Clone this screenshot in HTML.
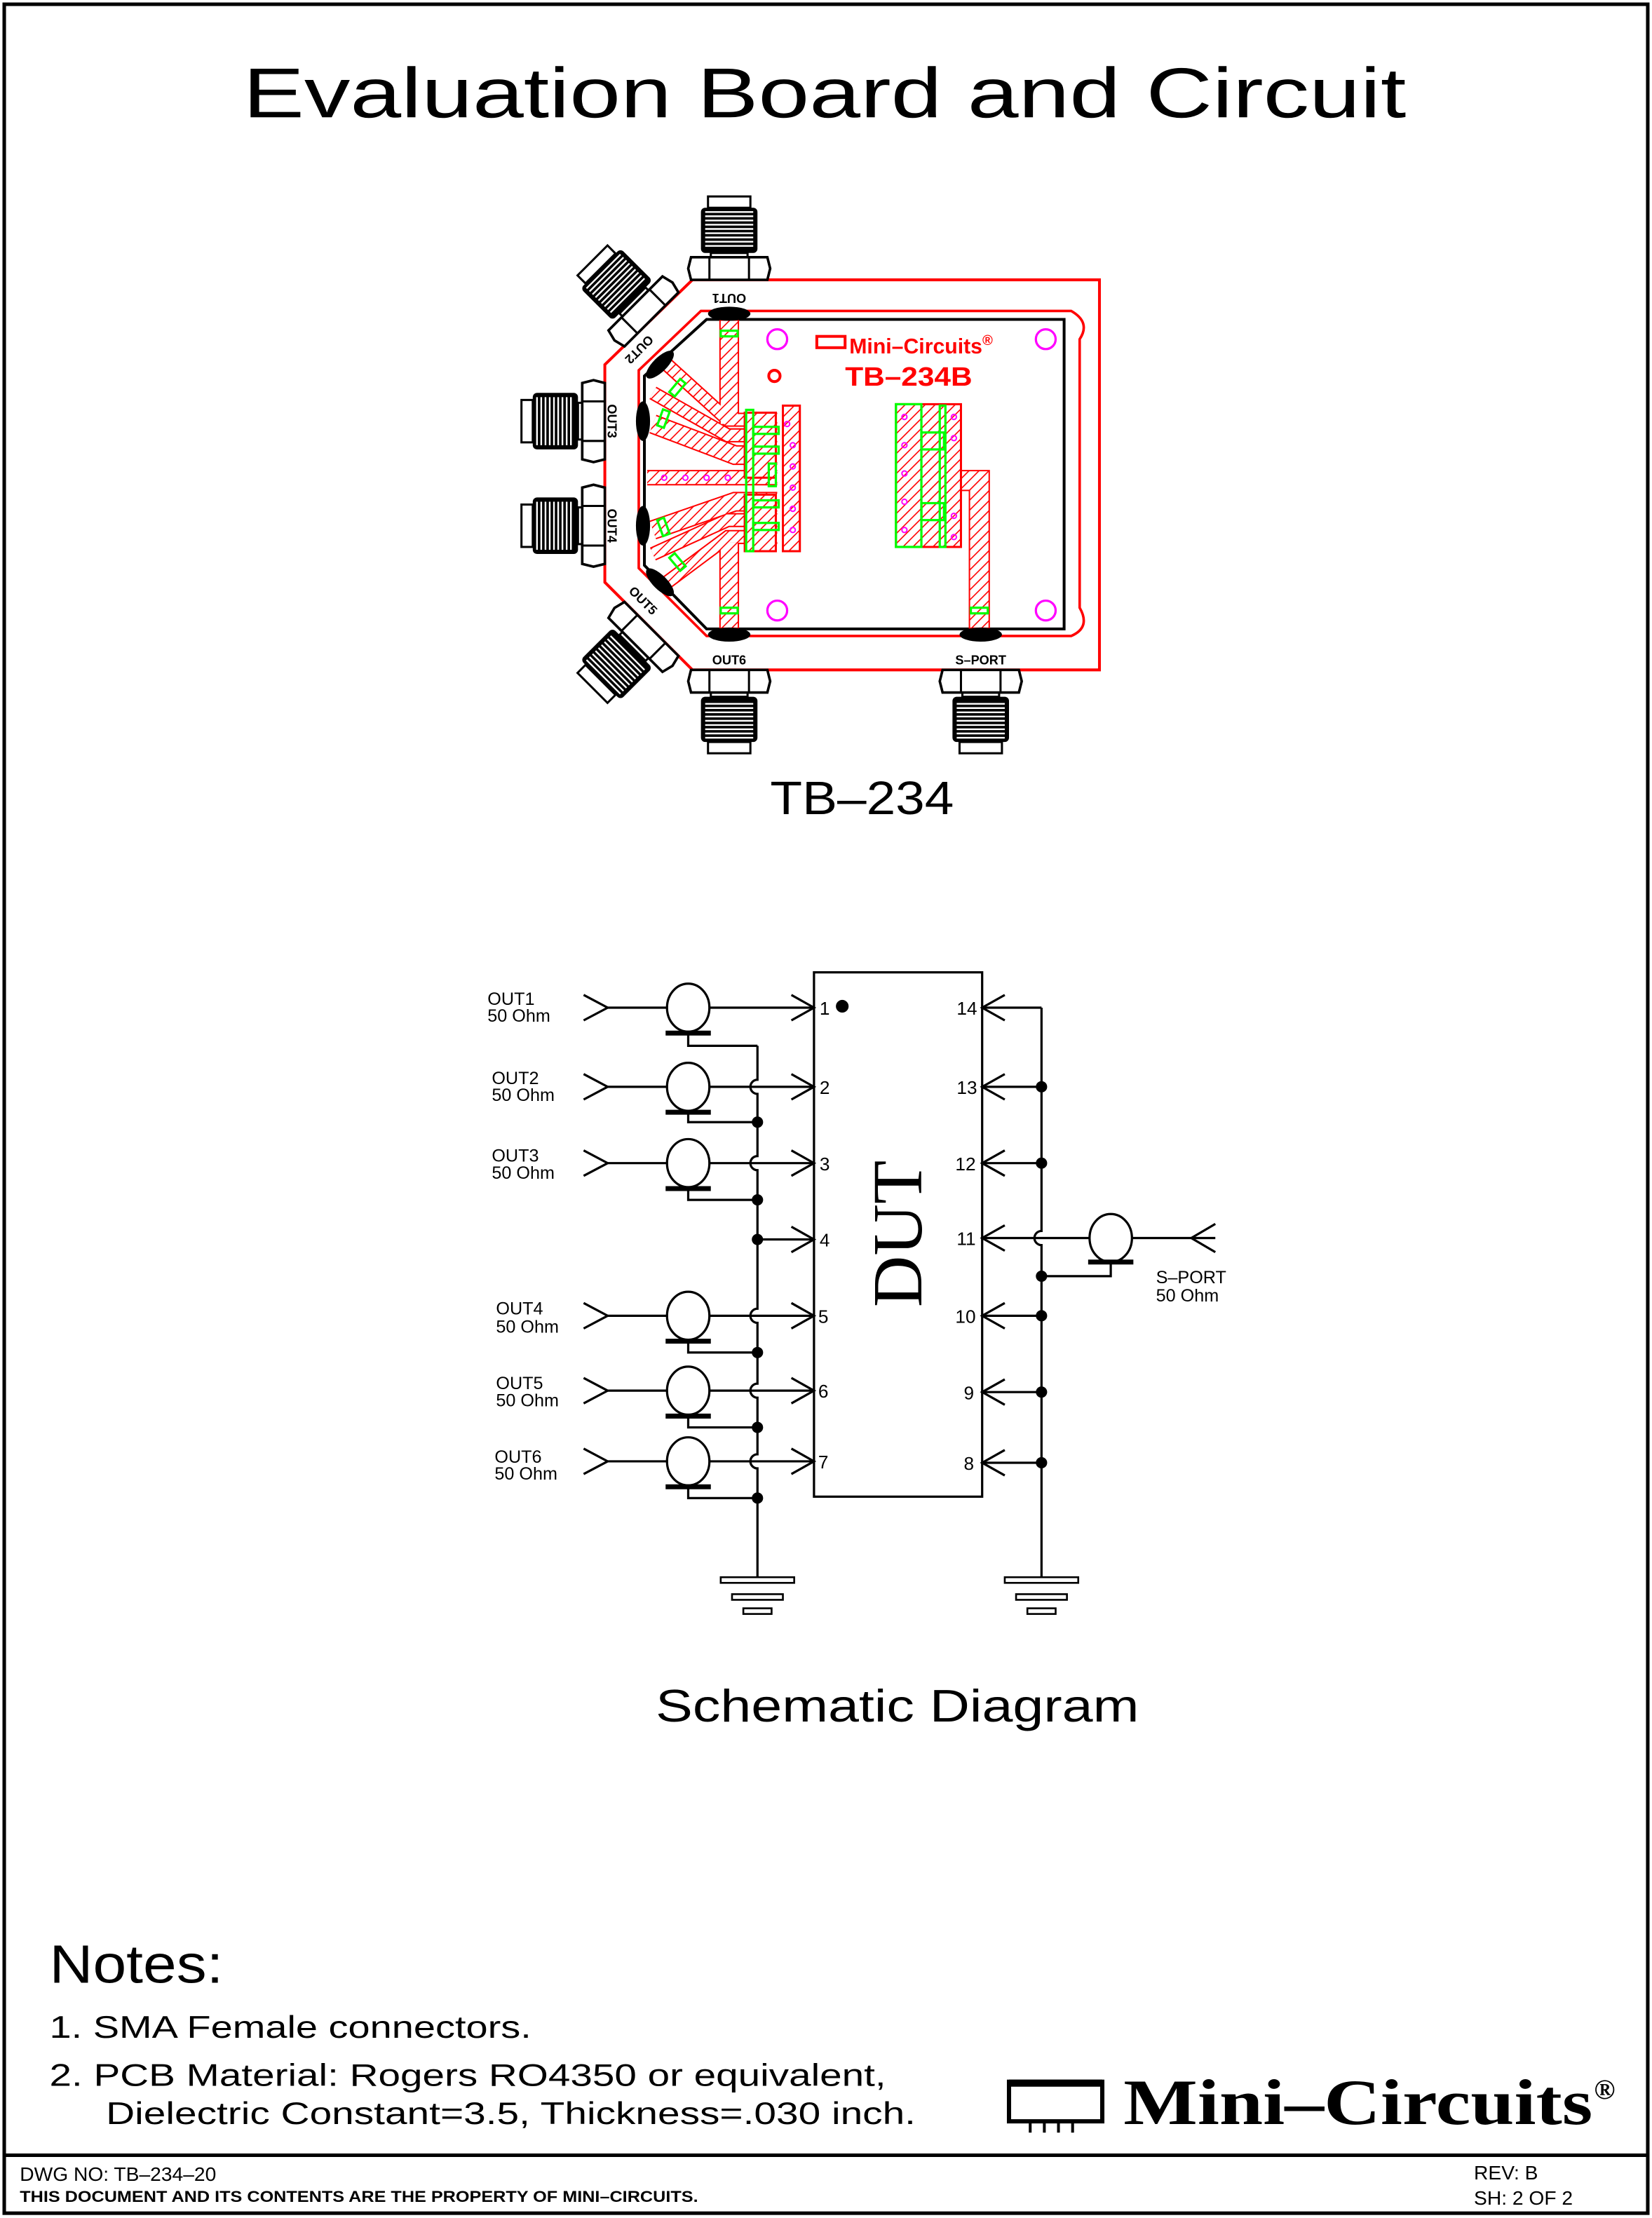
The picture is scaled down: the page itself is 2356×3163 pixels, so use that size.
<!DOCTYPE html>
<html><head><meta charset="utf-8"><style>
html,body{margin:0;padding:0;background:#fff;}
svg{display:block;}
text{font-family:"Liberation Sans",sans-serif;}
text.serif{font-family:"Liberation Serif",serif;}
</style></head><body>
<svg width="2356" height="3163" viewBox="0 0 1169 1569.4" xmlns="http://www.w3.org/2000/svg">
<defs>
<pattern id="h" patternUnits="userSpaceOnUse" width="5" height="5" patternTransform="rotate(45)">
<rect width="5" height="5" fill="#fff"/><line x1="0" y1="0" x2="0" y2="5" stroke="#f00" stroke-width="1.6"/>
</pattern>
<g id="conn">
<rect x="-15" y="-59" width="30" height="8" fill="#fff" stroke="#000" stroke-width="1.5"/>
<rect x="-20" y="-51" width="40" height="32" rx="3" fill="#000"/>
<g stroke="#fff" stroke-width="1.2">
<line x1="-17" y1="-48" x2="17" y2="-48"/><line x1="-17" y1="-45" x2="17" y2="-45"/><line x1="-17" y1="-42" x2="17" y2="-42"/><line x1="-17" y1="-39" x2="17" y2="-39"/><line x1="-17" y1="-36" x2="17" y2="-36"/><line x1="-17" y1="-33" x2="17" y2="-33"/><line x1="-17" y1="-30" x2="17" y2="-30"/><line x1="-17" y1="-27" x2="17" y2="-27"/><line x1="-17" y1="-24" x2="17" y2="-24"/>
</g>
<rect x="-13" y="-19" width="26" height="3" fill="#fff" stroke="#000" stroke-width="1.5"/>
<path d="M-27,-16 L27,-16 L29,-8 L27,0 L-27,0 L-29,-8 Z" fill="#fff" stroke="#000" stroke-width="1.8"/>
<line x1="-14" y1="-16" x2="-14" y2="0" stroke="#000" stroke-width="1.5"/>
<line x1="14" y1="-16" x2="14" y2="0" stroke="#000" stroke-width="1.5"/>
</g>
</defs>

<rect x="3" y="3" width="1163" height="1563" fill="none" stroke="#000" stroke-width="2.5"/>
<line x1="3" y1="1525" x2="1166" y2="1525" stroke="#000" stroke-width="2.5"/>

<text x="172" y="83" font-size="50" textLength="823" lengthAdjust="spacingAndGlyphs">Evaluation  Board  and  Circuit</text>

<!-- PCB -->
<path d="M490,198 L778,198 L778,474 L490,474 L428,412 L428,258 Z" fill="none" stroke="#f00" stroke-width="2"/>
<path d="M520,220 L758,220 Q772,228 764,240 L764,430 Q772,444 758,450 L500,450 L452,402 L452,262 L496,220 Z" fill="none" stroke="#f00" stroke-width="1.8"/>
<path d="M500,226 L753,226 L753,445 L500,445 L456,400 L456,266 Z" fill="none" stroke="#000" stroke-width="2"/>

<g fill="none" stroke-linejoin="miter">
<g stroke="#f00">
<polyline points="472,258 515,297 550,297" stroke-width="10"/>
<polyline points="462,278 515,308 550,308" stroke-width="10"/>
<polyline points="462,300 520,322 550,322" stroke-width="14"/>
<polyline points="458,338 550,338" stroke-width="11"/>
<polyline points="462,375 520,355 550,355" stroke-width="14"/>
<polyline points="462,392 515,368 550,368" stroke-width="10"/>
<polyline points="472,412 515,380 550,380" stroke-width="10"/>
<polyline points="516,226 516,300" stroke-width="14"/>
<polyline points="516,384 516,445" stroke-width="14"/>
<polyline points="655,340 693,340 693,445" stroke-width="15"/>
</g>
<g stroke="url(#h)">
<polyline points="472,258 515,297 550,297" stroke-width="8"/>
<polyline points="462,278 515,308 550,308" stroke-width="8"/>
<polyline points="462,300 520,322 550,322" stroke-width="12"/>
<polyline points="458,338 550,338" stroke-width="9"/>
<polyline points="462,375 520,355 550,355" stroke-width="12"/>
<polyline points="462,392 515,368 550,368" stroke-width="8"/>
<polyline points="472,412 515,380 550,380" stroke-width="8"/>
<polyline points="516,227 516,300" stroke-width="12"/>
<polyline points="516,384 516,444" stroke-width="12"/>
<polyline points="655,340 693,340 693,444" stroke-width="13"/>
</g>
</g>
<rect x="527" y="292" width="22" height="46" fill="url(#h)" stroke="#f00" stroke-width="1.5"/>
<rect x="527" y="350" width="22" height="40" fill="url(#h)" stroke="#f00" stroke-width="1.5"/>
<rect x="554" y="287" width="12" height="103" fill="url(#h)" stroke="#f00" stroke-width="1.5"/>
<rect x="634" y="286" width="46" height="101" fill="url(#h)" stroke="#f00" stroke-width="1.5"/>
<g fill="none" stroke="#0f0" stroke-width="1.6">
<rect x="634" y="286" width="18" height="101"/><rect x="652" y="306" width="16" height="12"/><rect x="652" y="356" width="16" height="12"/>
<rect x="665" y="287" width="4" height="100"/>
<rect x="528" y="290" width="5" height="100"/><rect x="533" y="302" width="18" height="5"/><rect x="533" y="316" width="18" height="5"/>
<rect x="533" y="354" width="18" height="5"/><rect x="533" y="370" width="18" height="5"/>
<rect x="544" y="328" width="5" height="16"/>
<rect x="510" y="234" width="12" height="4"/><rect x="510" y="430" width="12" height="4"/><rect x="687" y="430" width="12" height="4"/>
<rect x="477" y="268" width="5" height="12" transform="rotate(40 479 274)"/>
<rect x="467" y="290" width="5" height="12" transform="rotate(20 469 296)"/>
<rect x="467" y="367" width="5" height="12" transform="rotate(-20 469 373)"/>
<rect x="477" y="392" width="5" height="12" transform="rotate(-40 479 398)"/>
</g>
<g fill="none" stroke="#f0f" stroke-width="1">
<circle cx="557" cy="300" r="1.8"/><circle cx="561" cy="315" r="1.8"/><circle cx="561" cy="330" r="1.8"/><circle cx="561" cy="345" r="1.8"/><circle cx="561" cy="360" r="1.8"/><circle cx="561" cy="375" r="1.8"/>
<circle cx="470" cy="338" r="1.8"/><circle cx="485" cy="338" r="1.8"/><circle cx="500" cy="338" r="1.8"/><circle cx="515" cy="338" r="1.8"/>
<circle cx="640" cy="295" r="1.8"/><circle cx="640" cy="315" r="1.8"/><circle cx="640" cy="335" r="1.8"/><circle cx="640" cy="355" r="1.8"/><circle cx="640" cy="375" r="1.8"/>
<circle cx="675" cy="295" r="1.8"/><circle cx="675" cy="310" r="1.8"/><circle cx="675" cy="365" r="1.8"/><circle cx="675" cy="380" r="1.8"/>
</g>
<g fill="none" stroke="#f0f" stroke-width="1.6">
<circle cx="550" cy="240" r="7"/><circle cx="740" cy="240" r="7"/><circle cx="550" cy="432" r="7"/><circle cx="740" cy="432" r="7"/>
</g>
<circle cx="548" cy="266" r="4" fill="none" stroke="#f00" stroke-width="2"/>
<rect x="578" y="238" width="20" height="8" fill="none" stroke="#f00" stroke-width="2"/>
<text x="601" y="250" font-size="15" font-weight="bold" fill="#f00">Mini–Circuits<tspan font-size="10" dy="-6">®</tspan></text>
<text x="598" y="273" font-size="19" font-weight="bold" fill="#f00" textLength="90" lengthAdjust="spacingAndGlyphs">TB–234B</text>

<g fill="#000">
<ellipse cx="516" cy="222" rx="15" ry="5"/><ellipse cx="516" cy="449" rx="15" ry="5"/><ellipse cx="694" cy="449" rx="15" ry="5"/>
<ellipse cx="455" cy="298" rx="5" ry="14"/><ellipse cx="455" cy="372" rx="5" ry="14"/>
<ellipse cx="467" cy="258" rx="13" ry="5" transform="rotate(-45 467 258)"/>
<ellipse cx="467" cy="412" rx="13" ry="5" transform="rotate(45 467 412)"/>
</g>

<use href="#conn" transform="translate(516,198)"/>
<use href="#conn" transform="translate(516,474) rotate(180)"/>
<use href="#conn" transform="translate(694,474) rotate(180)"/>
<use href="#conn" transform="translate(428,298) rotate(-90)"/>
<use href="#conn" transform="translate(428,372) rotate(-90)"/>
<use href="#conn" transform="translate(461,226) rotate(-45)"/>
<use href="#conn" transform="translate(461,445) rotate(-135)"/>

<g font-size="9" font-weight="bold">
<text x="516" y="202" text-anchor="middle" transform="rotate(180 516 205)">OUT1</text>
<text x="453" y="252" text-anchor="middle" transform="rotate(135 453 248)">OUT2</text>
<text x="433" y="301" text-anchor="middle" transform="rotate(90 433 298)">OUT3</text>
<text x="433" y="375" text-anchor="middle" transform="rotate(90 433 372)">OUT4</text>
<text x="455" y="428" text-anchor="middle" transform="rotate(45 455 425)">OUT5</text>
<text x="516" y="470" text-anchor="middle">OUT6</text>
<text x="694" y="470" text-anchor="middle">S–PORT</text>
</g>

<text x="545" y="576" font-size="33" textLength="130" lengthAdjust="spacingAndGlyphs">TB–234</text>

<!-- Schematic -->
<g stroke="#000" stroke-width="1.6" fill="none">
<rect x="576" y="688" width="119" height="371"/>
<polyline points="413,704 430,713 413,722"/><line x1="430" y1="713" x2="576" y2="713"/><polyline points="560,704 576,713 560,722"/>
<polyline points="413,760 430,769 413,778"/><line x1="430" y1="769" x2="576" y2="769"/><polyline points="560,760 576,769 560,778"/>
<polyline points="413,814 430,823 413,832"/><line x1="430" y1="823" x2="576" y2="823"/><polyline points="560,814 576,823 560,832"/>
<line x1="536" y1="877" x2="576" y2="877"/><polyline points="560,868 576,877 560,886"/>
<polyline points="413,922 430,931 413,940"/><line x1="430" y1="931" x2="576" y2="931"/><polyline points="560,922 576,931 560,940"/>
<polyline points="413,975 430,984 413,993"/><line x1="430" y1="984" x2="576" y2="984"/><polyline points="560,975 576,984 560,993"/>
<polyline points="413,1025 430,1034 413,1043"/><line x1="430" y1="1034" x2="576" y2="1034"/><polyline points="560,1025 576,1034 560,1043"/>
<path d="M536,740 L536,764 A5,5 0 0 0 536,774 L536,818 A5,5 0 0 0 536,828 L536,926 A5,5 0 0 0 536,936 L536,979 A5,5 0 0 0 536,989 L536,1029 A5,5 0 0 0 536,1039 L536,1117"/>
<polyline points="487,731 487,740 536,740"/>
<polyline points="487,787 487,794 536,794"/>
<polyline points="487,841 487,849 536,849"/>
<polyline points="487,949 487,957 536,957"/>
<polyline points="487,1002 487,1010 536,1010"/>
<polyline points="487,1052 487,1060 536,1060"/>
<path d="M737,713 L737,871 A5,5 0 0 0 737,881 L737,1117"/>
<line x1="695" y1="713" x2="737" y2="713"/><polyline points="711,704 695,713 711,722"/>
<line x1="695" y1="769" x2="737" y2="769"/><polyline points="711,760 695,769 711,778"/>
<line x1="695" y1="823" x2="737" y2="823"/><polyline points="711,814 695,823 711,832"/>
<line x1="695" y1="876" x2="860" y2="876"/><polyline points="711,867 695,876 711,885"/><polyline points="860,866 843,876 860,886"/>
<line x1="695" y1="931" x2="737" y2="931"/><polyline points="711,922 695,931 711,940"/>
<line x1="695" y1="985" x2="737" y2="985"/><polyline points="711,976 695,985 711,994"/>
<line x1="695" y1="1035" x2="737" y2="1035"/><polyline points="711,1026 695,1035 711,1044"/>
<polyline points="786,893 786,903 737,903"/>
<g fill="#fff">
<ellipse cx="487" cy="713" rx="15" ry="17"/><ellipse cx="487" cy="769" rx="15" ry="17"/><ellipse cx="487" cy="823" rx="15" ry="17"/>
<ellipse cx="487" cy="931" rx="15" ry="17"/><ellipse cx="487" cy="984" rx="15" ry="17"/><ellipse cx="487" cy="1034" rx="15" ry="17"/>
<ellipse cx="786" cy="876" rx="15" ry="17"/>
</g>
</g>
<g stroke="#000" stroke-width="3.5">
<line x1="471" y1="731" x2="503" y2="731"/><line x1="471" y1="787" x2="503" y2="787"/><line x1="471" y1="841" x2="503" y2="841"/>
<line x1="471" y1="949" x2="503" y2="949"/><line x1="471" y1="1002" x2="503" y2="1002"/><line x1="471" y1="1052" x2="503" y2="1052"/>
<line x1="770" y1="893" x2="802" y2="893"/>
</g>
<g fill="#000">
<circle cx="596" cy="712" r="4.5"/>
<circle cx="536" cy="794" r="4"/><circle cx="536" cy="849" r="4"/><circle cx="536" cy="877" r="4"/><circle cx="536" cy="957" r="4"/><circle cx="536" cy="1010" r="4"/><circle cx="536" cy="1060" r="4"/>
<circle cx="737" cy="769" r="4"/><circle cx="737" cy="823" r="4"/><circle cx="737" cy="903" r="4"/><circle cx="737" cy="931" r="4"/><circle cx="737" cy="985" r="4"/><circle cx="737" cy="1035" r="4"/>
</g>
<g fill="#fff" stroke="#000" stroke-width="1.3">
<rect x="510" y="1116" width="52" height="4"/><rect x="518" y="1128" width="36" height="4"/><rect x="526" y="1138" width="20" height="4"/>
<rect x="711" y="1116" width="52" height="4"/><rect x="719" y="1128" width="36" height="4"/><rect x="727" y="1138" width="20" height="4"/>
</g>
<g font-size="13">
<text x="580" y="718">1</text><text x="580" y="774">2</text><text x="580" y="828">3</text><text x="580" y="882">4</text><text x="579" y="936">5</text><text x="579" y="989">6</text><text x="579" y="1039">7</text>
<text x="677" y="718">14</text><text x="677" y="774">13</text><text x="676" y="828">12</text><text x="677" y="881">11</text><text x="676" y="936">10</text><text x="682" y="990">9</text><text x="682" y="1040">8</text>
</g>
<text class="serif" x="0" y="0" font-size="50" textLength="104" lengthAdjust="spacingAndGlyphs" transform="translate(652,925) rotate(-90)">DUT</text>
<g font-size="12.5">
<text x="345" y="711">OUT1</text><text x="345" y="723">50  Ohm</text>
<text x="348" y="767">OUT2</text><text x="348" y="779">50  Ohm</text>
<text x="348" y="822">OUT3</text><text x="348" y="834">50  Ohm</text>
<text x="351" y="930">OUT4</text><text x="351" y="943">50  Ohm</text>
<text x="351" y="983">OUT5</text><text x="351" y="995">50  Ohm</text>
<text x="350" y="1035">OUT6</text><text x="350" y="1047">50  Ohm</text>
<text x="818" y="908">S–PORT</text><text x="818" y="921">50  Ohm</text>
</g>
<text x="464" y="1218" font-size="32" textLength="342" lengthAdjust="spacingAndGlyphs">Schematic  Diagram</text>

<text x="35" y="1403" font-size="38" textLength="123" lengthAdjust="spacingAndGlyphs">Notes:</text>
<text x="35" y="1442" font-size="22" textLength="341" lengthAdjust="spacingAndGlyphs">1.  SMA  Female  connectors.</text>
<text x="35" y="1476" font-size="22" textLength="592" lengthAdjust="spacingAndGlyphs">2.  PCB  Material:  Rogers  RO4350  or  equivalent,</text>
<text x="75" y="1503" font-size="22" textLength="573" lengthAdjust="spacingAndGlyphs">Dielectric  Constant=3.5,  Thickness=.030  inch.</text>

<rect x="714" y="1473" width="66" height="28" fill="#fff" stroke="#000" stroke-width="3"/>
<line x1="714" y1="1474" x2="780" y2="1474" stroke="#000" stroke-width="5"/>
<g stroke="#000" stroke-width="2"><line x1="729" y1="1501" x2="729" y2="1509"/><line x1="739" y1="1501" x2="739" y2="1509"/><line x1="749" y1="1501" x2="749" y2="1509"/><line x1="759" y1="1501" x2="759" y2="1509"/></g>
<text class="serif" x="795" y="1503" font-size="46" font-weight="bold" textLength="332" lengthAdjust="spacingAndGlyphs">Mini–Circuits</text>
<text class="serif" x="1128" y="1485" font-size="20" font-weight="bold">®</text>

<text x="14" y="1543" font-size="14">DWG  NO: TB–234–20</text>
<text x="14" y="1558" font-size="11" font-weight="bold" textLength="480" lengthAdjust="spacingAndGlyphs">THIS DOCUMENT AND ITS CONTENTS ARE THE PROPERTY OF MINI–CIRCUITS.</text>
<text x="1043" y="1542" font-size="14">REV: B</text>
<text x="1043" y="1560" font-size="14">SH: 2  OF  2</text>
</svg>
</body></html>
